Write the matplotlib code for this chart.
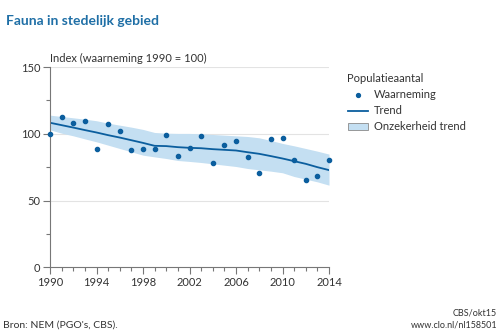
import numpy as np
from matplotlib import pyplot as plt
from matplotlib.lines import Line2D
from matplotlib.patches import Patch
from matplotlib.ticker import MultipleLocator

plt.rcParams['font.family'] = ['Lato', 'DejaVu Sans']

years = np.arange(1990, 2015)
observed = [100, 112.3, 108.2, 109.3, 88.3, 107.3, 102.3, 87.5, 88.3, 88.3,
            99.3, 83, 89.3, 98.3, 78.3, 91.3, 94.3, 82.3, 70.3, 96.3,
            97, 80.3, 65.3, 68.3, 80.5]
trend = [108.3, 106.5, 104.7, 102.8, 101, 99, 97.2, 95.2, 93.2, 91,
         90.8, 90, 89.5, 89.2, 88.5, 88, 87.5, 86.2, 85, 83.3,
         81.5, 79.5, 77.5, 75, 72.8]
upper = [114, 113, 112, 111, 109.8, 108, 106.5, 105, 103.3, 101,
         100.5, 100.3, 100.3, 100, 99.5, 99, 98.5, 98, 97, 95,
         92.8, 91, 89, 87, 84.8]
lower = [103, 100.5, 98.5, 96.2, 94, 91.5, 89, 86.5, 84, 82.7,
         81.5, 80, 79.3, 78.5, 77.5, 76.5, 75.5, 74, 73, 72,
         70.8, 68, 66, 64, 61.5]
tick_years = years[::4]

dark = '#0b5e9e'
band = '#c4dff2'
grey = '#777777'

fig = plt.figure(figsize=(5, 3.34), dpi=100)
ax = fig.add_axes([0.1, 0.2, 0.558, 0.599])

ax.fill_between(years, lower, upper, color=band, lw=0, zorder=1)
ax.plot(years, trend, color=dark, lw=1.3, zorder=2)
ax.scatter(years, observed, s=9, color=dark, zorder=3, clip_on=False)

ax.set_xlim(1990, 2014)
ax.set_ylim(0, 150)
ax.set_xticks(tick_years)
ax.xaxis.set_minor_locator(MultipleLocator(1))
ax.yaxis.set_major_locator(MultipleLocator(50))
ax.yaxis.set_minor_locator(MultipleLocator(25))
for v in [50, 100, 150]:
    ax.axhline(v, color='#e3e3e3', lw=0.8, zorder=0)

for s in ['top', 'right']:
    ax.spines[s].set_visible(False)
for s in ['left', 'bottom']:
    ax.spines[s].set_color(grey)
    ax.spines[s].set_linewidth(0.8)
ax.tick_params(which='both', colors=grey, width=0.8, labelcolor='#333333', labelsize=8)
ax.tick_params(which='major', length=5, pad=2)
ax.tick_params(which='minor', length=3)

fig.text(0.012, 0.925, 'Fauna in stedelijk gebied', color='#1f6fa6', fontsize=10, fontweight='bold')
fig.text(0.1, 0.815, 'Index (waarneming 1990 = 100)', color='#333333', fontsize=8)

handles = [Line2D([], [], marker='o', ls='', color=dark, markersize=2.8),
           Line2D([], [], color=dark, lw=1.3),
           Patch(facecolor=band, edgecolor='#8a8a8a', lw=0.6)]
labels = ['Waarneming', 'Trend', 'Onzekerheid trend']
leg = fig.legend(handles, labels, title='Populatieaantal', loc='upper left',
                 bbox_to_anchor=(0.675, 0.81), frameon=False, fontsize=8,
                 title_fontsize=8, alignment='left', handlelength=1.8,
                 labelspacing=0.45, handletextpad=0.6)
for t in leg.get_texts():
    t.set_color('#333333')
leg.get_title().set_color('#333333')

fig.text(0.006, 0.02, "Bron: NEM (PGO's, CBS).", color='#333333', fontsize=7.5)
fig.text(0.994, 0.055, 'CBS/okt15', color='#333333', fontsize=6.5, ha='right')
fig.text(0.994, 0.018, 'www.clo.nl/nl158501', color='#333333', fontsize=6.5, ha='right')

fig.savefig('out.png', dpi=100)
